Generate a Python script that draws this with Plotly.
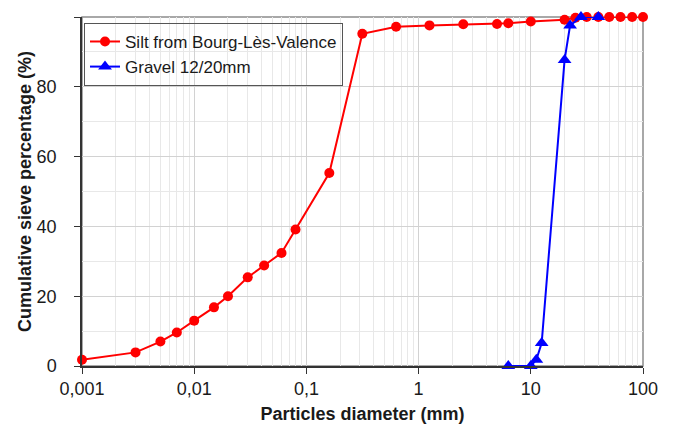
import plotly.graph_objects as go

# Data
silt_d = [0.001, 0.003, 0.005, 0.007, 0.01, 0.015, 0.02, 0.03, 0.042, 0.06, 0.08, 0.16,
          0.315, 0.63, 1.25, 2.5, 5, 6.3, 10, 20, 25, 31.5, 40, 50, 63, 80, 100]
silt_p = [1.8, 3.9, 7.0, 9.6, 13.0, 16.8, 20.0, 25.4, 28.8, 32.4, 39.1, 55.3,
          95.2, 97.2, 97.6, 97.9, 98.0, 98.2, 98.7, 99.2, 99.8, 100, 100, 100, 100, 100, 100]

gravel_d = [6.3, 10, 11.2, 12.5, 20, 22.4, 28, 40]
gravel_p = [0, 0, 1.8, 6.6, 87.7, 97.6, 100, 100]

x_tickvals = [0.001, 0.01, 0.1, 1, 10, 100]
x_ticktext = ["0,001", "0,01", "0,1", "1", "10", "100"]
y_tickvals = [0, 20, 40, 60, 80, 100]

minor_x = [m * 10.0 ** e for e in range(-3, 2) for m in range(2, 10)]

fig = go.Figure()
fig.add_trace(go.Scatter(
    x=silt_d, y=silt_p, mode="lines+markers", name="Silt from Bourg-Lès-Valence",
    line=dict(color="#FF0000", width=2),
    marker=dict(symbol="circle", size=10, color="#FF0000"),
    cliponaxis=False))
fig.add_trace(go.Scatter(
    x=gravel_d, y=gravel_p, mode="lines+markers", name="Gravel 12/20mm",
    line=dict(color="#0000FF", width=2),
    marker=dict(symbol="triangle-up", size=12, color="#0000FF"),
    cliponaxis=False))

fig.add_shape(type="rect", xref="paper", yref="paper", x0=0, y0=0, x1=1, y1=1,
              line=dict(color="#8c8c8c", width=1.5), layer="below")

font = "Liberation Sans, Arial, sans-serif"
txt = "#1a1a1a"
# The page body has an 8px default margin, so the figure is sized to fit the window.
fig.update_layout(
    width=666, height=424,
    margin=dict(l=74, r=31, t=9, b=66),
    paper_bgcolor="white", plot_bgcolor="white",
    font=dict(family=font, size=18, color=txt),
    showlegend=True,
    legend=dict(x=0.0036, y=0.983, xanchor="left", yanchor="top",
                bgcolor="rgba(255,255,255,0)", bordercolor="#555555", borderwidth=1,
                font=dict(family=font, size=17, color=txt),
                itemwidth=30, tracegroupgap=0),
    xaxis=dict(
        type="log", range=[-3, 2],
        tickmode="array", tickvals=x_tickvals, ticktext=x_ticktext,
        tickfont=dict(size=18, family=font, color=txt),
        showgrid=True, gridcolor="#d2d2d2", gridwidth=1,
        minor=dict(tickmode="array", tickvals=minor_x, showgrid=True,
                   gridcolor="#e8e8e8", gridwidth=1, ticks=""),
        showline=True, linecolor="#333333", linewidth=1.5,
        ticks="outside", ticklen=6, tickcolor="#333333",
        zeroline=False,
        title=dict(text="<b>Particles diameter (mm)</b>", font=dict(size=18, family=font, color=txt),
                   standoff=9),
        automargin=False,
    ),
    yaxis=dict(
        range=[0, 100],
        tickmode="array", tickvals=y_tickvals,
        tickfont=dict(size=18, family=font, color=txt),
        showgrid=True, gridcolor="#d2d2d2", gridwidth=1,
        minor=dict(dtick=10, showgrid=True, gridcolor="#e8e8e8", gridwidth=1, ticks=""),
        showline=True, linecolor="#333333", linewidth=1.5,
        ticks="outside", ticklen=6, tickcolor="#333333",
        ticklabelstandoff=14,
        zeroline=False,
        title=dict(text="<b>Cumulative sieve percentage (%)</b>", font=dict(size=18, family=font, color=txt),
                   standoff=0),
        automargin=False,
    ),
)

fig.write_html("out.html")
